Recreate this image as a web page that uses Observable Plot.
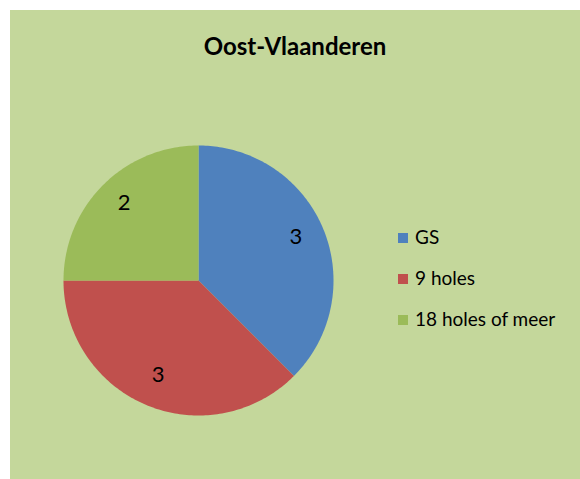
<!DOCTYPE html>
<html>
<head>
<meta charset="utf-8">
<script src="https://cdn.jsdelivr.net/npm/d3@7"></script>
<script src="https://cdn.jsdelivr.net/npm/@observablehq/plot@0.6"></script>
<style>
  html, body { margin: 0; padding: 0; background: #ffffff; }
  #wrap { position: relative; width: 580px; height: 479px; overflow: hidden; }
  #bg { position: absolute; left: 10px; top: 10px; width: 570px; height: 469px; background: #C4D79B; }
  #title { position: absolute; left: 10px; top: 31px; width: 570px; text-align: center;
           font-family: Lato, "Open Sans", sans-serif; font-weight: bold; font-size: 24px; color: #000; }
  #chart { position: absolute; left: 0; top: 0; }
  #legend { position: absolute; left: 398px; top: 225px; font-family: Lato, "Open Sans", sans-serif; font-size: 19px; color: #000; }
  .item { height: 41px; display: flex; align-items: flex-start; }
  .sw { width: 10px; height: 10px; margin-top: 8px; margin-right: 7px; }
</style>
</head>
<body>
<div id="wrap">
  <div id="bg"></div>
  <div id="title">Oost-Vlaanderen</div>
  <div id="chart"></div>
  <div id="legend"></div>
</div>
<script>
const categories = ["GS", "9 holes", "18 holes of meer"];
const values = [3, 3, 2];
const colors = ["#4F81BD", "#C0504D", "#9BBB59"];

const data = categories.map((c, i) => ({category: c, value: values[i]}));
const arcs = d3.pie().value(d => d.value).sort(null)(data);

// Build slice outlines in unit-circle coordinates (angle 0 at top, clockwise)
const outline = [];
for (const a of arcs) {
  const cat = a.data.category;
  outline.push({category: cat, x: 0, y: 0});
  const steps = Math.max(2, Math.ceil((a.endAngle - a.startAngle) / (Math.PI / 180)));
  for (let k = 0; k <= steps; k++) {
    const t = a.startAngle + (a.endAngle - a.startAngle) * k / steps;
    outline.push({category: cat, x: Math.sin(t), y: Math.cos(t)});
  }
  outline.push({category: cat, x: 0, y: 0});
}
const labelR = 0.78;
const labels = arcs.map(a => {
  const m = (a.startAngle + a.endAngle) / 2;
  return {category: a.data.category, value: a.data.value, x: labelR * Math.sin(m), y: labelR * Math.cos(m)};
});

const plot = Plot.plot({
  width: 580,
  height: 479,
  margin: 0,
  style: {background: "transparent", overflow: "visible"},
  x: {domain: [-1, 1], range: [63, 333], axis: null},
  y: {domain: [-1, 1], range: [415, 145], axis: null},
  color: {domain: categories, range: colors},
  marks: [
    Plot.line(outline, {x: "x", y: "y", z: "category", fill: "category", stroke: "none", curve: "linear"}),
    Plot.text(labels, {x: "x", y: "y", dy: -3, text: d => String(d.value), fontSize: 22,
      fontFamily: "Lato, 'Open Sans', sans-serif", fill: "#000"})
  ]
});
document.getElementById("chart").appendChild(plot);

const legend = document.getElementById("legend");
categories.forEach((c, i) => {
  const item = document.createElement("div");
  item.className = "item";
  const sw = document.createElement("div");
  sw.className = "sw";
  sw.style.background = colors[i];
  const t = document.createElement("span");
  t.textContent = c;
  item.appendChild(sw);
  item.appendChild(t);
  legend.appendChild(item);
});
</script>
</body>
</html>
